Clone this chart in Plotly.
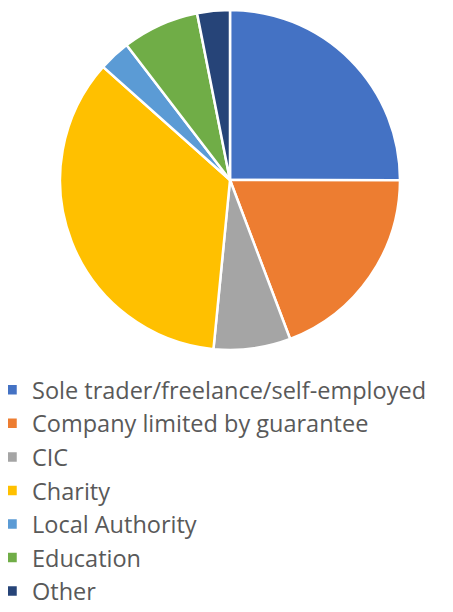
import plotly.graph_objects as go

labels = ["Sole trader/freelance/self-employed", "Company limited by guarantee", "CIC",
          "Charity", "Local Authority", "Education", "Other"]
values = [25.0, 19.2, 7.3, 35.0, 3.0, 7.3, 3.1]
colors = ["#4472C4", "#ED7D31", "#A5A5A5", "#FFC000", "#5B9BD5", "#70AD47", "#264478"]

# the page body adds an 8px offset, so the figure is sized to fit the window
W, H = 445, 604

fig = go.Figure(go.Pie(
    labels=labels, values=values, sort=False, direction="clockwise", rotation=0,
    marker=dict(colors=colors, line=dict(color="white", width=2.5)),
    textinfo="none", hoverinfo="label+percent",
    domain=dict(x=[52 / W, 392 / W], y=[1 - 342 / H, 1 - 2 / H]),
))

fig.update_layout(
    width=W, height=H,
    margin=dict(l=0, r=0, t=0, b=0, autoexpand=False),
    paper_bgcolor="white", plot_bgcolor="white",
    showlegend=True,
    legend=dict(
        x=-16 / W, xanchor="left", y=1 - 360 / H, yanchor="top",
        font=dict(family="Open Sans", size=23.5, color="#595959"),
        bgcolor="rgba(0,0,0,0)", orientation="v",
    ),
)

fig.write_html("out.html")
